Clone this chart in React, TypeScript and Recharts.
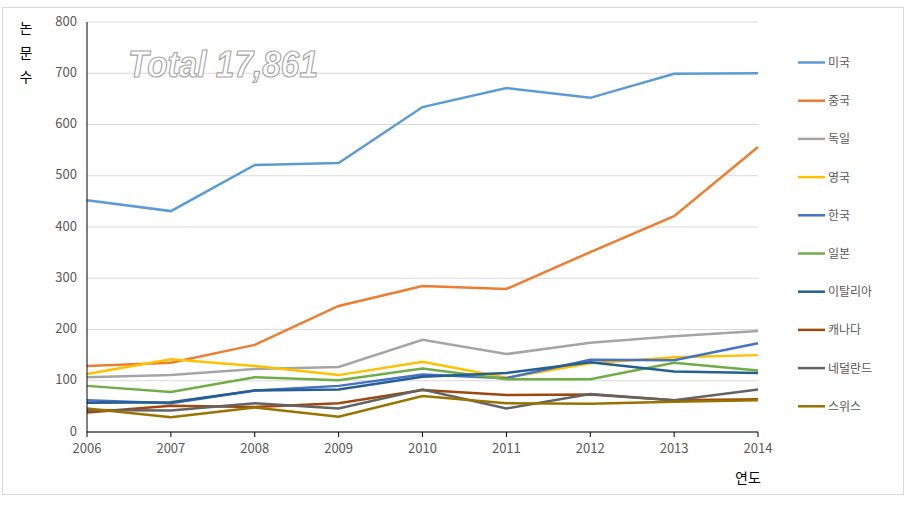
import { CartesianGrid, Line, LineChart, XAxis, YAxis } from "recharts";

const years = ["2006", "2007", "2008", "2009", "2010", "2011", "2012", "2013", "2014"];
const yTicks = [0, 100, 200, 300, 400, 500, 600, 700, 800];

const usa = [452, 431, 521, 525, 634, 671, 652, 699, 700];
const china = [129, 135, 170, 246, 285, 279, 351, 421, 556];
const germany = [107, 111, 123, 127, 180, 152, 174, 187, 197];
const uk = [113, 142, 129, 111, 137, 106, 134, 146, 150];
const korea = [62, 56, 81, 90, 112, 105, 141, 140, 173];
const japan = [90, 78, 107, 101, 124, 103, 103, 135, 120];
const italy = [57, 58, 81, 83, 108, 115, 136, 118, 115];
const canada = [38, 51, 49, 56, 82, 72, 73, 62, 64];
const netherlands = [43, 42, 56, 46, 83, 46, 74, 62, 83];
const switzerland = [46, 29, 48, 30, 70, 56, 55, 59, 62];

const series = [
  { key: "usa", name: "미국", values: usa, color: "#5B9BD5" },
  { key: "china", name: "중국", values: china, color: "#ED7D31" },
  { key: "germany", name: "독일", values: germany, color: "#A5A5A5" },
  { key: "uk", name: "영국", values: uk, color: "#FFC000" },
  { key: "korea", name: "한국", values: korea, color: "#4472C4" },
  { key: "japan", name: "일본", values: japan, color: "#70AD47" },
  { key: "italy", name: "이탈리아", values: italy, color: "#255E91" },
  { key: "canada", name: "캐나다", values: canada, color: "#9E480E" },
  { key: "netherlands", name: "네덜란드", values: netherlands, color: "#636363" },
  { key: "switzerland", name: "스위스", values: switzerland, color: "#997300" },
];

const data = years.map((year, i) => {
  const row: Record<string, string | number> = { year };
  series.forEach((s) => (row[s.key] = s.values[i]));
  return row;
});

const font = "'Noto Sans CJK KR', 'Noto Sans', sans-serif";
const tickStyle = { fontSize: 13, fill: "#595959", fontFamily: font };

export default function App() {
  return (
    <div style={{ position: "absolute", left: 0, top: 0, width: 905, height: 505, background: "#fff" }}>
      <div style={{ position: "absolute", left: 2, top: 7, width: 900, height: 486, border: "1px solid #d9d9d9" }} />
      <LineChart width={905} height={505} data={data} margin={{ top: 22, right: 147, bottom: 43, left: 0 }}>
        <CartesianGrid vertical={false} stroke="#d9d9d9" />
        <XAxis
          dataKey="year"
          height={30}
          stroke="#000"
          tickSize={5}
          tickMargin={7}
          tick={tickStyle}
          interval={0}
        />
        <YAxis
          width={87}
          domain={[0, 800]}
          ticks={yTicks}
          stroke="#000"
          tickLine={false}
          tickSize={0}
          tickMargin={10}
          tick={{ ...tickStyle, dy: -1 }}
          interval={0}
        />
        {series.map((s) => (
          <Line
            key={s.key}
            dataKey={s.key}
            name={s.name}
            stroke={s.color}
            strokeWidth={2.5}
            dot={false}
            type="linear"
            isAnimationActive={false}
          />
        ))}
      </LineChart>
      <svg width={905} height={505} style={{ position: "absolute", left: 0, top: 0, pointerEvents: "none" }}>
        <text
          x={128}
          y={77}
          fontFamily="'Liberation Sans', Arial, sans-serif"
          fontWeight="bold"
          fontStyle="italic"
          fontSize={36}
          textLength={190}
          lengthAdjust="spacingAndGlyphs"
          fill="#fff"
          stroke="#a6a6a6"
          strokeWidth={1.2}
        >
          Total 17,861
        </text>
        {["논", "문", "수"].map((c, i) => (
          <text key={c} x={26} y={33 + i * 24.5} textAnchor="middle" fontSize={14} fontFamily={font} fill="#000">
            {c}
          </text>
        ))}
        <text x={748} y={483} textAnchor="middle" fontSize={14} fontFamily={font} fill="#000">
          연도
        </text>
        {series.map((s, i) => (
          <g key={s.key}>
            <line x1={798} x2={825} y1={62.5 + i * 38.2} y2={62.5 + i * 38.2} stroke={s.color} strokeWidth={2.5} />
            <text x={828} y={67 + i * 38.2} fontSize={12} fontFamily={font} fill="#595959">
              {s.name}
            </text>
          </g>
        ))}
      </svg>
    </div>
  );
}
